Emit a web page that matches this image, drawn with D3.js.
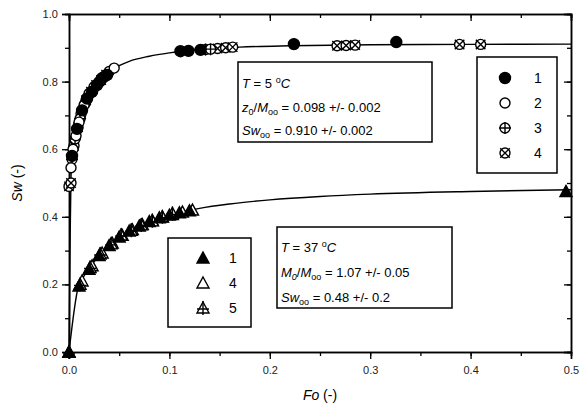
<!DOCTYPE html>
<html><head><meta charset="utf-8">
<script src="https://cdn.jsdelivr.net/npm/d3@7"></script>
<style>body{margin:0;background:#fff}</style></head><body>
<svg id="c" width="584" height="408"></svg>
<script>
// fitted curves
const fitUpperX = [0, 0.001, 0.002, 0.004, 0.006, 0.008, 0.010, 0.013, 0.016, 0.020, 0.025, 0.030, 0.035, 0.040, 0.050, 0.060, 0.080, 0.100, 0.130, 0.170, 0.220, 0.300, 0.400, 0.500];
const fitUpperY = [0, 0.30, 0.52, 0.59, 0.63, 0.66, 0.685, 0.715, 0.74, 0.765, 0.79, 0.805, 0.818, 0.83, 0.847, 0.86, 0.875, 0.885, 0.895, 0.902, 0.906, 0.909, 0.910, 0.911];
const fitLowerX = [0, 0.009, 0.015, 0.020, 0.030, 0.040, 0.050, 0.060, 0.080, 0.100, 0.130, 0.160, 0.200, 0.250, 0.300, 0.400, 0.500];
const fitLowerY = [0, 0.19, 0.225, 0.248, 0.285, 0.315, 0.338, 0.357, 0.385, 0.405, 0.425, 0.438, 0.450, 0.460, 0.467, 0.475, 0.480];

// T = 5 C series
const up1X = [0.003, 0.008, 0.013, 0.018, 0.023, 0.028, 0.033, 0.038, 0.111, 0.119, 0.131, 0.224, 0.326];
const up1Y = [0.58, 0.66, 0.715, 0.75, 0.77, 0.79, 0.81, 0.82, 0.890, 0.891, 0.894, 0.911, 0.917];
const up2X = [0.002, 0.004, 0.007, 0.010, 0.015, 0.020, 0.025, 0.030, 0.035, 0.040, 0.045];
const up2Y = [0.545, 0.60, 0.64, 0.68, 0.73, 0.765, 0.785, 0.80, 0.815, 0.83, 0.84];
const up3X = [0.003, 0.006, 0.011, 0.016, 0.021, 0.026, 0.031, 0.036, 0.136, 0.141];
const up3Y = [0.57, 0.63, 0.69, 0.735, 0.765, 0.785, 0.80, 0.815, 0.895, 0.896];
const up4X = [0.000, 0.002, 0.005, 0.009, 0.012, 0.017, 0.022, 0.027, 0.032, 0.037, 0.148, 0.156, 0.163, 0.267, 0.276, 0.285, 0.389, 0.410];
const up4Y = [0.49, 0.50, 0.61, 0.665, 0.705, 0.745, 0.77, 0.79, 0.805, 0.82, 0.898, 0.900, 0.902, 0.906, 0.907, 0.908, 0.910, 0.910];

// T = 37 C series
const lo1X = [0.000, 0.010, 0.020, 0.030, 0.040, 0.050, 0.060, 0.070, 0.080, 0.090, 0.100, 0.110, 0.120, 0.495];
const lo1Y = [0.000, 0.195, 0.245, 0.285, 0.315, 0.340, 0.358, 0.373, 0.386, 0.397, 0.405, 0.412, 0.418, 0.475];
const lo4X = [0.000, 0.013, 0.023, 0.033, 0.043, 0.053, 0.063, 0.073, 0.083, 0.093, 0.103, 0.113, 0.123];
const lo4Y = [0.000, 0.21, 0.255, 0.293, 0.322, 0.345, 0.362, 0.377, 0.389, 0.399, 0.407, 0.414, 0.42];
const lo5X = [0.000, 0.011, 0.021, 0.031, 0.042, 0.052, 0.062, 0.072, 0.083, 0.093, 0.103];
const lo5Y = [0.000, 0.20, 0.25, 0.29, 0.32, 0.346, 0.36, 0.376, 0.388, 0.40, 0.41];

const xTicks = [0.0, 0.1, 0.2, 0.3, 0.4, 0.5];
const yTicks = [0.0, 0.2, 0.4, 0.6, 0.8, 1.0];
const legendUpper = ["1", "2", "3", "4"];
const legendLower = ["1", "4", "5"];

const svg = d3.select("#c");
const L = 69, R = 571, T = 14, B = 352;
const x = d3.scaleLinear().domain([0, 0.5]).range([L, R]);
const y = d3.scaleLinear().domain([0, 1]).range([B, T]);
const FONT = "Liberation Sans, Arial, sans-serif";

// axes
const minorX = d3.range(0, 0.5001, 0.05);
const minorY = d3.range(0, 1.0001, 0.1);
const axB = svg.append("g").attr("transform", `translate(0,${B})`)
  .call(d3.axisBottom(x).tickValues(minorX).tickSize(4).tickFormat(""));
axB.append("g").call(d3.axisBottom(x).tickValues(xTicks).tickSize(7).tickFormat(d3.format(".1f")));
const axL = svg.append("g").attr("transform", `translate(${L},0)`)
  .call(d3.axisLeft(y).tickValues(minorY).tickSize(4).tickFormat(""));
axL.append("g").call(d3.axisLeft(y).tickValues(yTicks).tickSize(7).tickFormat(d3.format(".1f")));
const axT = svg.append("g").attr("transform", `translate(0,${T})`)
  .call(d3.axisTop(x).tickValues(minorX).tickSize(-4).tickFormat(""));
axT.append("g").call(d3.axisTop(x).tickValues(xTicks).tickSize(-7).tickFormat(""));
const axR = svg.append("g").attr("transform", `translate(${R},0)`)
  .call(d3.axisRight(y).tickValues(minorY).tickSize(-4).tickFormat(""));
axR.append("g").call(d3.axisRight(y).tickValues(yTicks).tickSize(-7).tickFormat(""));
svg.selectAll(".domain").attr("stroke", "#000").attr("stroke-width", 1.5);
svg.selectAll(".tick line").attr("stroke", "#000").attr("stroke-width", 1.3);
svg.selectAll(".tick text").attr("font-family", FONT).attr("font-size", 11).attr("fill", "#222");
axB.selectAll(".tick text").attr("dy", "1.05em");
axL.selectAll(".tick text").attr("dx", "-0.1em");

// axis labels
const xl = svg.append("text").attr("x", (L + R) / 2).attr("y", 400).attr("text-anchor", "middle")
  .attr("font-family", FONT).attr("font-size", 14);
xl.append("tspan").attr("font-style", "italic").text("Fo");
xl.append("tspan").text(" (-)");
const yl = svg.append("text").attr("transform", `translate(22,${(T + B) / 2}) rotate(-90)`)
  .attr("text-anchor", "middle").attr("font-family", FONT).attr("font-size", 14);
yl.append("tspan").attr("font-style", "italic").text("Sw");
yl.append("tspan").text(" (-)");

// fitted lines
const line = d3.line().x(d => x(d[0])).y(d => y(d[1])).curve(d3.curveMonotoneX);
svg.append("path").datum(d3.zip(fitUpperX, fitUpperY)).attr("d", line)
  .attr("fill", "none").attr("stroke", "#000").attr("stroke-width", 1.4);
svg.append("path").datum(d3.zip(fitLowerX, fitLowerY)).attr("d", line)
  .attr("fill", "none").attr("stroke", "#000").attr("stroke-width", 1.4);

// markers
function marker(g, type, cx, cy) {
  const s = g.append("g").attr("transform", `translate(${cx},${cy})`)
    .attr("stroke", "#000").attr("stroke-width", 1.4);
  const r = 5;
  if (type === "fc") s.append("circle").attr("r", 5.5).attr("fill", "#000");
  if (type === "oc") s.append("circle").attr("r", r).attr("fill", "#fff");
  if (type === "pc") {
    s.append("circle").attr("r", r).attr("fill", "#fff");
    s.append("path").attr("d", `M${-r - 1},0H${r + 1}M0,${-r - 1}V${r + 1}`);
  }
  if (type === "xc") {
    s.append("circle").attr("r", r).attr("fill", "#fff");
    const k = r * 0.95;
    s.append("path").attr("d", `M${-k},${-k}L${k},${k}M${-k},${k}L${k},${-k}`);
  }
  const tri = "M0,-6L6,5L-6,5Z";
  if (type === "ft") s.append("path").attr("d", tri).attr("fill", "#000");
  if (type === "ot") s.append("path").attr("d", tri).attr("fill", "#fff");
  if (type === "pt") {
    s.append("path").attr("d", tri).attr("fill", "#fff");
    s.append("path").attr("d", "M0,-7V7M-6,1H6");
  }
}
const gm = svg.append("g");
function plot(xs, ys, type) { xs.forEach((v, i) => marker(gm, type, x(v), y(ys[i]))); }
plot(up4X, up4Y, "xc");
plot(up3X, up3Y, "pc");
plot(up2X, up2Y, "oc");
plot(up1X, up1Y, "fc");
plot(lo4X, lo4Y, "ot");
plot(lo5X, lo5Y, "pt");
plot(lo1X, lo1Y, "ft");

// boxes
function box(x0, y0, w, h) {
  svg.append("rect").attr("x", x0).attr("y", y0).attr("width", w).attr("height", h)
    .attr("fill", "#fff").attr("stroke", "#000").attr("stroke-width", 1.5);
}
// upper legend
box(477, 57, 80, 116);
const upTypes = ["fc", "oc", "pc", "xc"];
legendUpper.forEach((t, i) => {
  const cy = 78 + i * 25;
  marker(svg, upTypes[i], 505, cy);
  svg.append("text").attr("x", 538).attr("y", cy + 5).attr("text-anchor", "middle")
    .attr("font-family", FONT).attr("font-size", 14).text(t);
});
// lower legend
box(168, 238, 83, 89);
const loTypes = ["ft", "ot", "pt"];
legendLower.forEach((t, i) => {
  const cy = 258 + i * 25;
  marker(svg, loTypes[i], 203, cy);
  svg.append("text").attr("x", 233).attr("y", cy + 5).attr("text-anchor", "middle")
    .attr("font-family", FONT).attr("font-size", 14).text(t);
});

// annotation text helper
function rich(x0, y0, parts) {
  const t = svg.append("text").attr("x", x0).attr("y", y0).attr("font-family", FONT).attr("font-size", 13);
  parts.forEach(p => {
    const sp = t.append("tspan").text(p[0]);
    if (p[1] === "i") sp.attr("font-style", "italic");
    if (p[1] === "sub") sp.attr("font-size", 9).attr("baseline-shift", "-30%");
    if (p[1] === "subi") sp.attr("font-size", 9).attr("baseline-shift", "-30%").attr("font-style", "italic");
    if (p[1] === "sup") sp.attr("font-size", 9).attr("baseline-shift", "55%");
  });
}
box(238, 62, 194, 80);
rich(242, 88, [["T", "i"], [" = 5 ", "n"], ["o", "sup"], ["C", "i"]]);
rich(242, 112, [["z", "i"], ["0", "sub"], ["/", "n"], ["M", "i"], ["oo", "sub"], [" = 0.098 +/- 0.002", "n"]]);
rich(242, 135, [["Sw", "i"], ["oo", "sub"], [" = 0.910 +/- 0.002", "n"]]);

box(277, 227, 175, 81);
rich(281, 252, [["T", "i"], [" = 37 ", "n"], ["o", "sup"], ["C", "i"]]);
rich(281, 277, [["M", "i"], ["0", "subi"], ["/", "n"], ["M", "i"], ["oo", "sub"], [" = 1.07 +/- 0.05", "n"]]);
rich(281, 302, [["Sw", "i"], ["oo", "sub"], [" = 0.48 +/- 0.2", "n"]]);
</script>
</body></html>
